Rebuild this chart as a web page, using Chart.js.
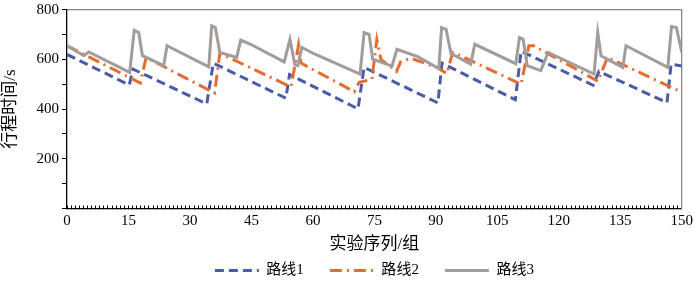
<!DOCTYPE html>
<html>
<head>
<meta charset="utf-8">
<script src="https://cdn.jsdelivr.net/npm/chart.js@4.4.1/dist/chart.umd.min.js"></script>
<style>
  html, body { margin: 0; padding: 0; background: #fff; }
  #wrap { width: 700px; height: 284px; }
</style>
</head>
<body>
<div id="wrap"><canvas id="chart"></canvas></div>
<script>
// values (vertices of each line)
const route1X = [0, 15.2, 16.1, 34.1, 35.7, 53.4, 54.3, 71.0, 72.5, 90.5, 91.5, 109.4, 110.8, 128.4, 129.8, 146.4, 147.4, 150];
const route1Y = [620, 497, 561, 421, 585, 444, 539, 401, 568, 425, 585, 438, 633, 496, 552, 426, 581, 574];

const route2X = [0, 17.9, 19.3, 36.0, 37.3, 53.5, 54.7, 56.5, 57.1, 70.1, 71.3, 74.4, 75.6, 76.6, 80.4, 81.4, 83.8, 90.3, 92.7, 94.1, 95.1, 109.8, 110.8, 112.7, 113.9, 128.6, 129.5, 131.9, 150];
const route2Y = [655, 505, 608, 465, 625, 498, 492, 658, 585, 470, 508, 520, 680, 600, 552, 590, 605, 568, 543, 628, 622, 508, 500, 655, 655, 521, 512, 608, 468];

const route3X = [0, 4.1, 5.3, 15.3, 16.4, 17.5, 18.4, 23.6, 24.4, 34.6, 35.3, 36.2, 37.3, 41.4, 42.4, 44.8, 53.0, 54.4, 55.6, 56.3, 57.3, 60.4, 71.5, 72.5, 73.7, 74.6, 79.3, 80.5, 85.7, 90.7, 91.4, 92.5, 93.7, 98.5, 99.5, 109.5, 110.4, 111.3, 112.3, 115.6, 117.4, 128.6, 129.5, 130.3, 135.6, 136.4, 146.6, 147.5, 148.7, 150];
const route3Y = [655, 615, 630, 548, 717, 708, 615, 575, 655, 570, 735, 728, 628, 608, 678, 661, 590, 681, 578, 575, 648, 622, 541, 708, 701, 601, 573, 641, 610, 563, 728, 721, 624, 581, 661, 583, 688, 681, 575, 555, 628, 541, 708, 615, 568, 655, 568, 732, 728, 628];

const seriesNames = ['路线1', '路线2', '路线3'];
const xTitle = '实验序列/组';
const yTitle = '行程时间/s';

const pts = (xs, ys) => xs.map((x, i) => ({x: x, y: ys[i]}));

Chart.defaults.font.family = "'Liberation Serif', 'Noto Sans CJK SC', serif";
Chart.defaults.color = '#000';

new Chart(document.getElementById('chart'), {
    type: 'scatter',
    data: {
        datasets: [
            {
                label: seriesNames[0],
                data: pts(route1X, route1Y),
                showLine: true,
                borderColor: '#4a5ba8',
                backgroundColor: '#4a5ba8',
                borderWidth: 3,
                borderDash: [9, 5],
                pointRadius: 0,
                order: 3,
            },
            {
                label: seriesNames[1],
                data: pts(route2X, route2Y),
                showLine: true,
                borderColor: '#e66d32',
                backgroundColor: '#e66d32',
                borderWidth: 3,
                borderDash: [12, 5, 2, 5],
                pointRadius: 0,
                order: 2,
            },
            {
                label: seriesNames[2],
                data: pts(route3X, route3Y),
                showLine: true,
                borderColor: '#a29c9a',
                backgroundColor: '#a29c9a',
                borderWidth: 3,
                pointRadius: 0,
                order: 1,
            },
        ]
    },
    options: {
        responsive: true,
        maintainAspectRatio: false,
        animation: false,
        layout: { padding: { left: 0, right: 0, top: 0, bottom: -4 } },
        plugins: {
            tooltip: { enabled: false },
            legend: {
                position: 'bottom',
                fullSize: false,
                labels: {
                    usePointStyle: true,
                    pointStyle: 'line',
                    pointStyleWidth: 44,
                    boxWidth: 44,
                    padding: 26,
                    font: { size: 15 },
                    sort: (a, b) => a.datasetIndex - b.datasetIndex,
                    generateLabels: chart => {
                        const items = Chart.defaults.plugins.legend.labels.generateLabels(chart);
                        items.forEach(it => {
                            it.lineDash = chart.data.datasets[it.datasetIndex].borderDash || [];
                        });
                        return items;
                    },
                }
            }
        },
        scales: {
            x: {
                type: 'linear',
                position: 'bottom',
                min: 0,
                max: 150,
                ticks: {
                    stepSize: 1,
                    autoSkip: false,
                    maxRotation: 0,
                    padding: 7,
                    font: { size: 15 },
                    callback: v => (v % 15 === 0 ? v : ''),
                },
                grid: { drawOnChartArea: false, tickLength: -3, color: '#000' },
                border: { color: '#000', width: 1.3 },
                title: { display: true, text: xTitle, font: { size: 17 }, padding: { top: 0, bottom: -18 } },
                afterFit: s => { s.height = 28.5; },
            },
            x2: {
                type: 'linear',
                position: 'top',
                min: 0,
                max: 150,
                ticks: { display: false },
                grid: { display: false, drawTicks: false },
                border: { color: '#888', width: 1.3 },
            },
            y: {
                min: 0,
                max: 800,
                ticks: {
                    stepSize: 100,
                    padding: 3,
                    font: { size: 15, lineHeight: 0.9 },
                    callback: v => (v % 200 === 0 && v !== 0 ? v : ''),
                },
                grid: { drawOnChartArea: false, tickLength: 5, color: '#000' },
                border: { color: '#000', width: 1.3 },
                title: { display: true, text: yTitle, font: { size: 17 }, padding: 0 },
                afterFit: s => { s.width = 67; },
            },
            y2: {
                position: 'right',
                min: 0,
                max: 800,
                ticks: { display: false },
                grid: { display: false, drawTicks: false },
                border: { color: '#888', width: 1.3 },
            },
        }
    }
});
</script>
</body>
</html>
